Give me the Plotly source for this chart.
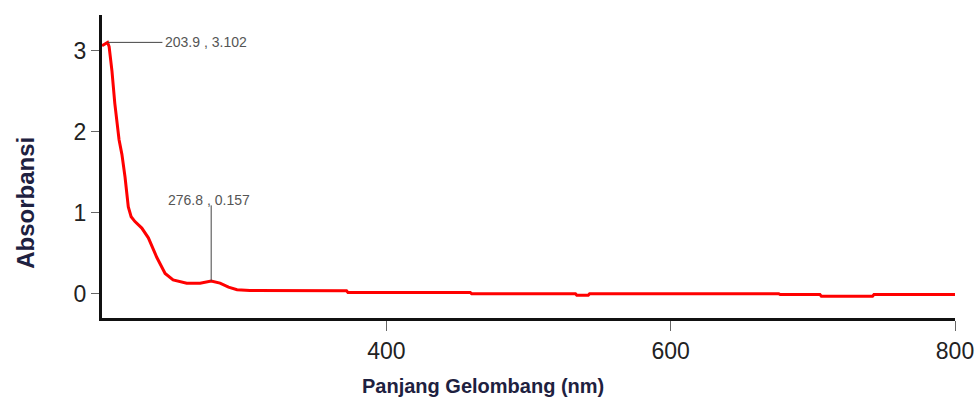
import plotly.graph_objects as go

# UV-Vis absorption spectrum
wavelength = [200, 201.5, 203.9, 205, 207, 209, 212, 214, 216.2, 218.5, 220.5, 223.2,
              228, 232.6, 238.5, 244.4, 250, 259.6, 269, 276.8, 283, 289, 295, 304,
              372, 373, 459, 460, 533, 534, 542, 543, 676, 677, 705, 706, 742, 743, 800]
absorbance = [3.06, 3.08, 3.102, 3.05, 2.75, 2.35, 1.9, 1.72, 1.44, 1.07, 0.95, 0.89,
              0.81, 0.69, 0.45, 0.25, 0.17, 0.13, 0.13, 0.157, 0.13, 0.08, 0.05, 0.04,
              0.035, 0.015, 0.015, 0.0, 0.0, -0.02, -0.02, 0.0, 0.0, -0.01, -0.01, -0.03,
              -0.03, -0.01, -0.01]

# labelled peaks
peak_wl = [203.9, 276.8]
peak_abs = [3.102, 0.157]

x_ticks = [400, 600, 800]
y_ticks = [0, 1, 2, 3]

fig = go.Figure()
fig.add_trace(go.Scatter(
    x=wavelength, y=absorbance, mode="lines",
    line=dict(color="#ff0000", width=3, shape="linear"),
    hoverinfo="x+y", showlegend=False,
))

label_font = dict(family="Liberation Sans Narrow, Arial Narrow, Arial, sans-serif",
                  size=14, color="#555555")

# first peak: horizontal leader to the right
fig.add_shape(type="line", x0=peak_wl[0], y0=peak_abs[0], x1=242.5, y1=peak_abs[0],
              line=dict(color="#444444", width=1))
fig.add_annotation(x=243, y=peak_abs[0], text=f"{peak_wl[0]} , {peak_abs[0]}",
                   showarrow=False, xanchor="left", yanchor="middle", font=label_font)

# second peak: vertical leader upward
fig.add_shape(type="line", x0=peak_wl[1], y0=peak_abs[1], x1=peak_wl[1], y1=1.09,
              line=dict(color="#444444", width=1))
fig.add_annotation(x=275.5, y=1.16, text=f"{peak_wl[1]} , {peak_abs[1]}",
                   showarrow=False, xanchor="center", yanchor="middle", font=label_font)

title_font = dict(family="Liberation Sans, Arial, sans-serif", size=20,
                  color="#1e2140", weight="bold")
fig.add_annotation(xref="paper", yref="paper", x=0.447, y=-0.224,
                   text="Panjang Gelombang (nm)", showarrow=False,
                   xanchor="center", yanchor="middle", font=title_font)
fig.add_annotation(xref="paper", yref="paper", x=-0.0905, y=0.3795,
                   text="Absorbansi", showarrow=False, textangle=-90,
                   xanchor="center", yanchor="middle",
                   font=dict(title_font, size=24))

fig.update_layout(
    width=979, height=398,
    margin=dict(l=102, r=24, t=15, b=80, autoexpand=False),
    plot_bgcolor="white", paper_bgcolor="white",
    xaxis=dict(range=[200, 800], tickvals=x_ticks, ticks="outside", ticklen=10,
               tickcolor="#666666", tickwidth=1, showline=True, linecolor="#111111",
               linewidth=3, showgrid=False, zeroline=False, automargin=False,
               tickfont=dict(family="Liberation Sans Narrow, Arial Narrow, Arial, sans-serif",
                             size=23, color="#222222")),
    yaxis=dict(range=[-0.30, 3.44], tickvals=y_ticks, ticks="outside", ticklen=8,
               tickcolor="#666666", tickwidth=1, showline=True, linecolor="#111111",
               linewidth=3, showgrid=False, zeroline=False, automargin=False,
               tickfont=dict(family="Liberation Sans, Arial, sans-serif",
                             size=23, color="#222222")),
)

fig.write_html("out.html")
